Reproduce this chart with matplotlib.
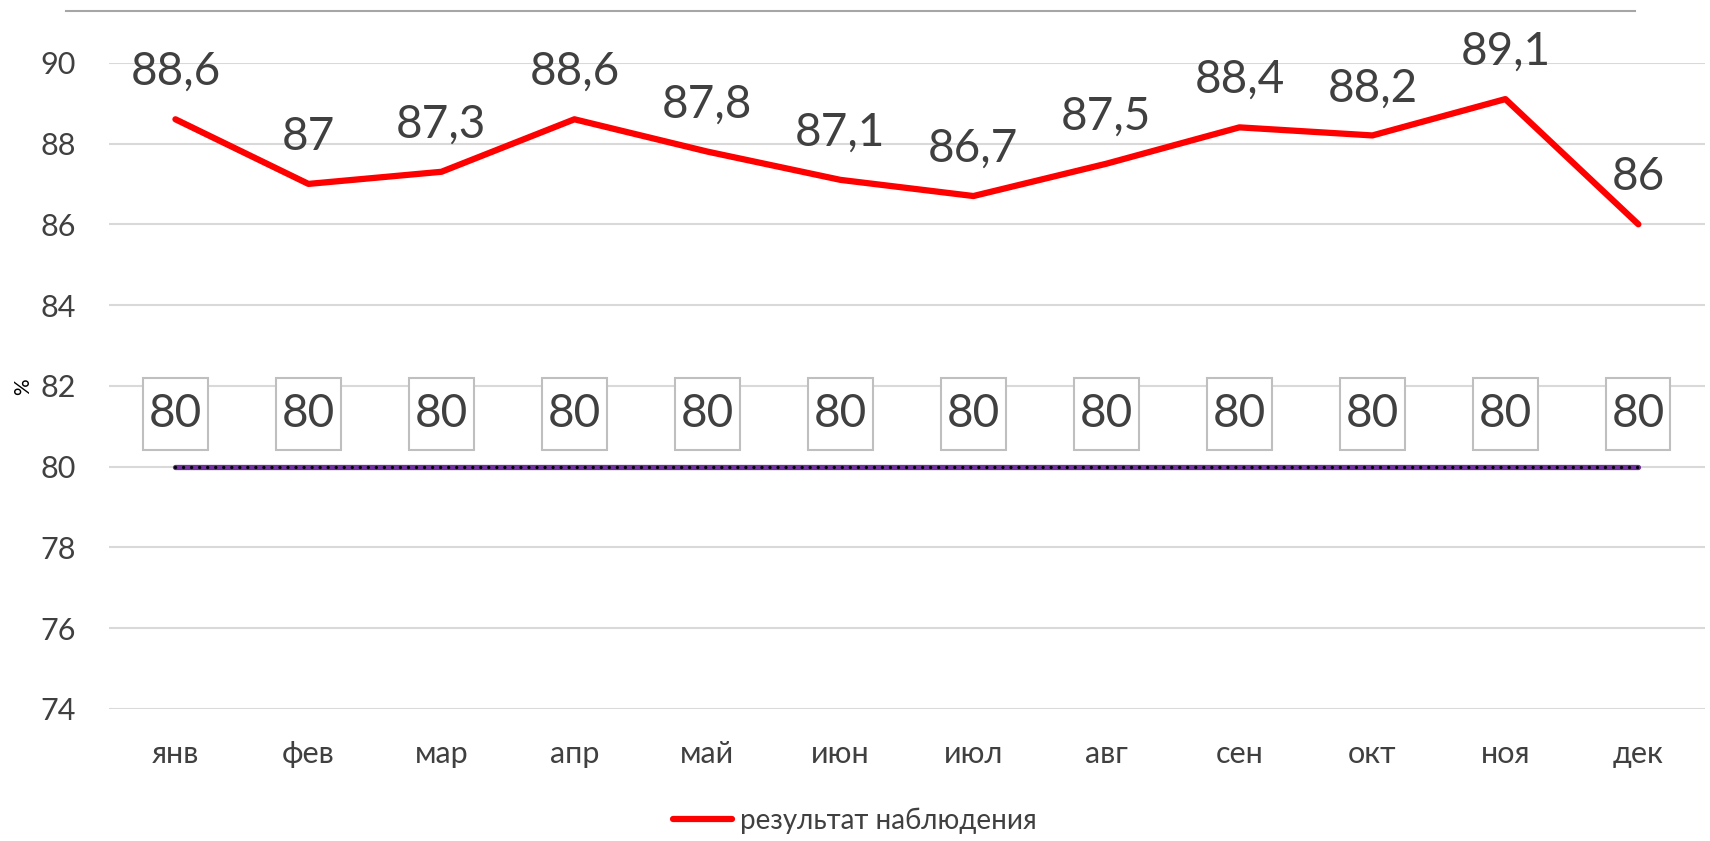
import matplotlib.pyplot as plt
from matplotlib.lines import Line2D
from matplotlib.path import Path

plt.rcParams['font.family'] = ['Lato', 'DejaVu Sans']

months = ['янв', 'фев', 'мар', 'апр', 'май', 'июн', 'июл', 'авг', 'сен', 'окт', 'ноя', 'дек']
observed = [88.6, 87.0, 87.3, 88.6, 87.8, 87.1, 86.7, 87.5, 88.4, 88.2, 89.1, 86.0]
target = [80] * 12
yticks = [74, 76, 78, 80, 82, 84, 86, 88, 90]

text_col = '#404040'


def label_box(x0, y0, width, height, mutation_size):
    # square box, taller padding than wide (like the excel label frames)
    px = 0.12 * mutation_size
    py = 0.33 * mutation_size
    x0, y0 = x0 - px, y0 - py
    x1, y1 = x0 + width + 2 * px, y0 + height + 2 * py
    return Path([(x0, y0), (x1, y0), (x1, y1), (x0, y1), (x0, y0)], closed=True)


fig = plt.figure(figsize=(17.1, 8.41), dpi=100)
ax = fig.add_axes([0.0637, 0.157, 0.9333, 0.7684])

x = list(range(len(months)))

# target line: purple with black dots on top
ax.plot(x, target, color='#7030a0', lw=3.8, solid_capstyle='round', zorder=3)
ax.plot(x, target, color='black', lw=2.4, ls=(0, (0.01, 2.4)), dash_capstyle='round', zorder=4)

# observations
ax.plot(x, observed, color='#ff0000', lw=4.5, solid_capstyle='round', zorder=5,
        label='результат наблюдения')

for xi, v in zip(x, observed):
    lab = f'{v:g}'.replace('.', ',')
    ax.annotate(lab, (xi, v), xytext=(0, 34), textcoords='offset points',
                ha='center', va='center', fontsize=33, color=text_col,
                annotation_clip=False, zorder=6)

for xi, v in zip(x, target):
    ax.annotate(f'{v:g}', (xi, v), xytext=(0, 38), textcoords='offset points',
                ha='center', va='center', fontsize=33, color=text_col,
                annotation_clip=False, zorder=6,
                bbox=dict(boxstyle=label_box, fc='white', ec='#bfbfbf', lw=1.5))

ax.set_xlim(-0.5, len(months) - 0.5)
ax.set_ylim(74, 90)
ax.set_yticks(yticks)
ax.set_xticks(x)
ax.set_xticklabels(months)
ax.grid(axis='y', color='#d9d9d9', lw=1.5)
ax.set_axisbelow(True)
for s in ax.spines.values():
    s.set_visible(False)
ax.tick_params(length=0, labelsize=22, colors=text_col)
ax.tick_params(axis='y', pad=24)
ax.tick_params(axis='x', pad=22)

fig.text(0.0135, 0.54, '%', rotation=90, fontsize=15, color='black', ha='center', va='center')

fig.legend(loc='center', bbox_to_anchor=(0.5, 0.024), frameon=False, fontsize=20,
           handlelength=2.1, handletextpad=0.3, labelcolor=text_col)

# thin gray line across the top of the chart area
fig.add_artist(Line2D([66 / 1710, 1635 / 1710], [1 - 10.5 / 841] * 2,
                      transform=fig.transFigure, color='#a6a6a6', lw=1.5))

fig.savefig('out.png', dpi=100)
